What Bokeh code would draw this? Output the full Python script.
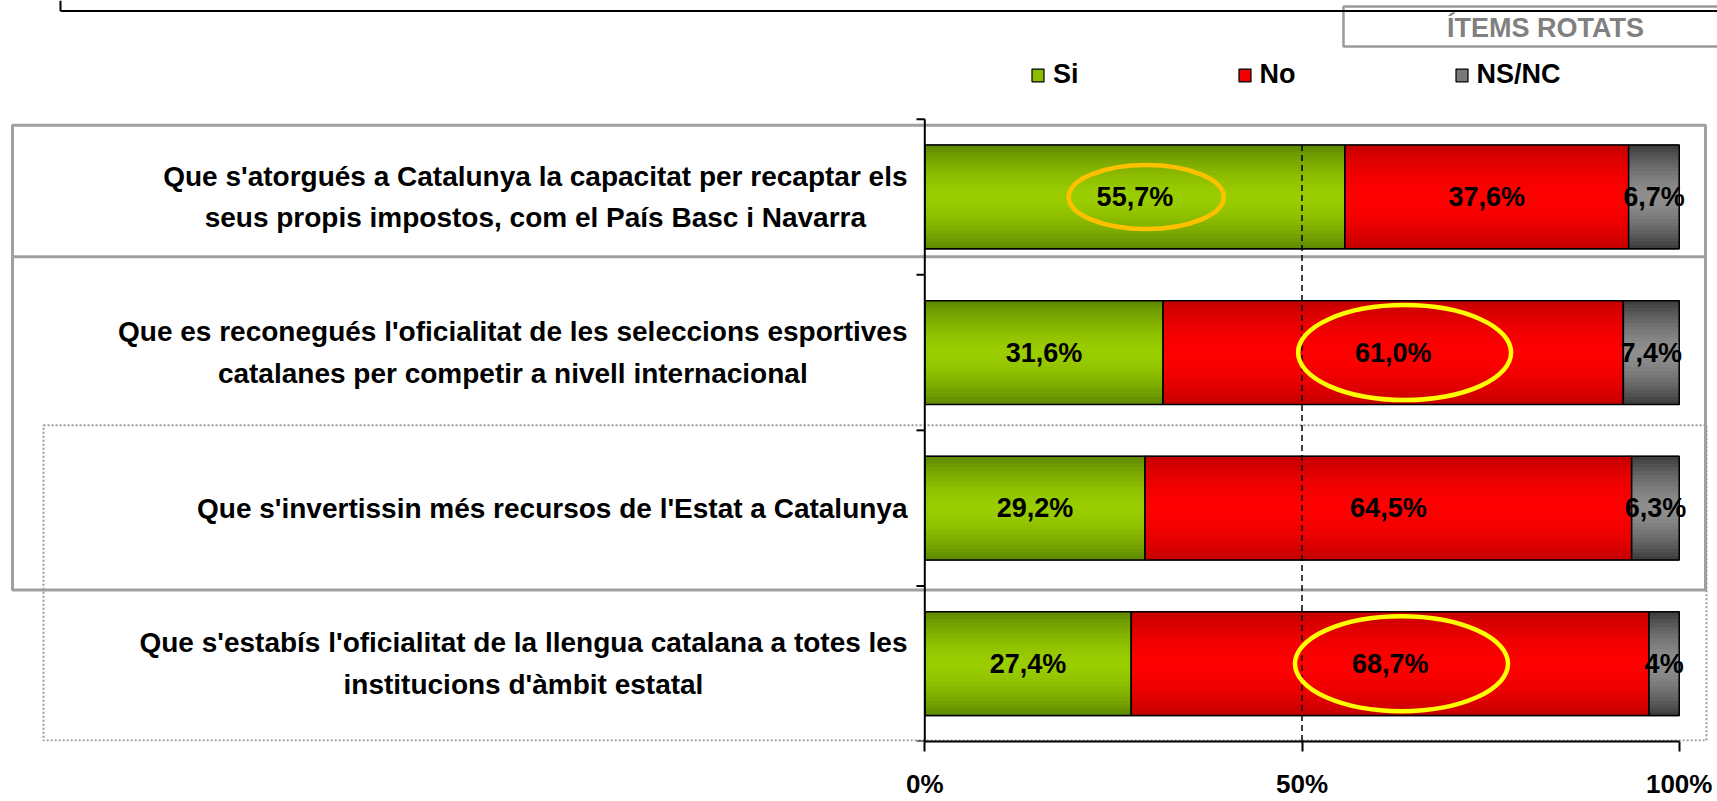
from bokeh.plotting import figure
from bokeh.models import Range1d, FixedTicker, PrintfTickFormatter, Legend, LegendItem, ColumnDataSource
from bokeh.core.properties import value
from bokeh.embed import file_html
from bokeh.resources import INLINE

# ---------------- data ----------------
categories = [
    "Que s'atorgués a Catalunya la capacitat per recaptar els\nseus propis impostos, com el País Basc i Navarra",
    "Que es reconegués l'oficialitat de les seleccions esportives\ncatalanes per competir a nivell internacional",
    "Que s'invertissin més recursos de l'Estat a Catalunya",
    "Que s'estabís l'oficialitat de la llengua catalana a totes les\ninstitucions d'àmbit estatal",
]
series_names = ["Si", "No", "NS/NC"]
si = [55.7, 31.6, 29.2, 27.4]
no = [37.6, 61.0, 64.5, 68.7]
nsnc = [6.7, 7.4, 6.3, 4]
x_ticks = [0, 50, 100]
header_text = "ÍTEMS ROTATS"
highlights = [(0, "Si"), (1, "No"), (3, "No")]

# ---------------- layout / style ----------------
W, H = 1717, 801
FONT = value("Liberation Sans")
X_ZERO_PAGE, PX_PER_PCT = 924.3, 7.544
Y_ZERO_PAGE, BAND_PX = 743.0, 156.0


def X(px):
    return (px - X_ZERO_PAGE) / PX_PER_PCT


def Y(py):
    return (Y_ZERO_PAGE - py) / BAND_PX


BAR_H = 104.0 / BAND_PX
palettes = {
    "Si": ("#9ACD00", "#5E8800"),
    "No": ("#FF0000", "#C40000"),
    "NS/NC": ("#8E8E8E", "#3A3A3A"),
}
hl_style = [("#FFC000", 155, 64), ("#FFFF00", 213, 95), ("#FFFF00", 213, 95)]


def mix(c1, c2, f):
    a = [int(c1[i:i + 2], 16) for i in (1, 3, 5)]
    b = [int(c2[i:i + 2], 16) for i in (1, 3, 5)]
    return "#%02x%02x%02x" % tuple(round(a[i] * (1 - f) + b[i] * f) for i in range(3))


def fmt(v):
    if isinstance(v, int):
        return f"{v}%"
    return f"{v:.1f}".replace(".", ",") + "%"


n = len(categories)
yc = [n - i - 0.5 for i in range(n)]
vals = {"Si": si, "No": no, "NS/NC": nsnc}
totals = [si[i] + no[i] + nsnc[i] for i in range(n)]

p = figure(width=W, height=H, x_range=Range1d(X(0), X(W)), y_range=Range1d(Y(743), Y(0)),
           output_backend="svg", toolbar_location=None, y_axis_location=None,
           min_border_left=0, min_border_right=0, min_border_top=0, min_border_bottom=H - 743)
p.outline_line_color = None
p.grid.visible = False

# decorative frames (as in the original slide)
p.quad(left=[X(1343)], right=[X(1760)], top=[Y(6)], bottom=[Y(46)], fill_color=None,
       line_color="#9A9A9A", line_width=2.5)
p.segment(x0=[X(60)], y0=[Y(10.5)], x1=[X(1717)], y1=[Y(10.5)], line_color="black", line_width=2)
p.segment(x0=[X(60)], y0=[Y(0)], x1=[X(60)], y1=[Y(10.5)], line_color="black", line_width=2)
p.text(x=[X(1545)], y=[Y(28)], text=[header_text], text_align="center", text_baseline="middle",
       text_font=FONT, text_font_style="bold", text_font_size="27px", text_color="#808080")
p.quad(left=[X(12)], right=[X(1705)], top=[Y(125)], bottom=[Y(591)], fill_color=None,
       line_color="#A0A0A0", line_width=3)
p.segment(x0=[X(12)], y0=[Y(257)], x1=[X(1705)], y1=[Y(257)], line_color="#A0A0A0", line_width=3)
p.quad(left=[X(43)], right=[X(1706)], top=[Y(426)], bottom=[Y(742)], fill_color=None,
       line_color="#9A9A9A", line_width=2, line_dash="2 2")

# stacked bars (100%)
M = 14
legend_items = []
cum = [0.0] * n
for name in series_names:
    v = vals[name]
    left = [cum[i] for i in range(n)]
    right = [cum[i] + v[i] / totals[i] * 100 for i in range(n)]
    cum = right
    src = ColumnDataSource(dict(y=yc, left=left, right=right,
                                lx=[(l + r) / 2 for l, r in zip(left, right)],
                                label=[fmt(x) for x in v]))
    mid, edge = palettes[name]
    base = p.hbar(y="y", left="left", right="right", height=BAR_H, source=src,
                  fill_color=mix(mid, edge, 0.25), line_color="black", line_width=1.2)
    legend_items.append(LegendItem(label=name, renderers=[base]))
    for k in range(M):
        frac = (M - k) / M
        t = (M - k - 0.5) / M
        p.hbar(y="y", left="left", right="right", height=BAR_H * frac, source=src,
               fill_color=mix(mid, edge, t ** 1.6), line_color=None)
    p.hbar(y="y", left="left", right="right", height=BAR_H, source=src,
           fill_color=None, line_color="black", line_width=1.5)
    vals[name + "_src"] = src

# 50% reference line
p.segment(x0=[x_ticks[1]], y0=[yc[0] + BAR_H / 2], x1=[x_ticks[1]], y1=[0],
          line_color="black", line_width=1.5, line_dash="6 4")

# highlight ellipses
for (ci, sname), (col, wpx, hpx) in zip(highlights, hl_style):
    src = vals[sname + "_src"]
    cx = src.data["lx"][ci] + 1.5
    p.ellipse(x=[cx], y=[yc[ci]], width=[wpx], height=[hpx], width_units="screen",
              height_units="screen", fill_color=None, line_color=col, line_width=4.5)

# value labels
for name in series_names:
    p.text(x="lx", y="y", text="label", source=vals[name + "_src"], text_align="center",
           text_baseline="middle", text_font=FONT, text_font_style="bold",
           text_font_size="27px", text_color="black")

# category labels
p.text(x=[X(907)] * n, y=yc, text=categories, anchor=value("center_right"), text_align="center",
       text_baseline="middle", text_line_height=1.35, text_font=FONT, text_font_style="bold",
       text_font_size="28px", text_color="black")

# left category axis (line + boundary ticks)
p.segment(x0=[0], y0=[0], x1=[0], y1=[n], line_color="black", line_width=2)
p.segment(x0=[X(916)] * (n + 1), y0=list(range(n + 1)), x1=[0] * (n + 1), y1=list(range(n + 1)),
          line_color="black", line_width=2)

# bottom axis
ax = p.xaxis[0]
ax.ticker = FixedTicker(ticks=x_ticks)
ax.formatter = PrintfTickFormatter(format="%d%%")
ax.bounds = (0, 100)
ax.axis_line_width = 2
ax.axis_line_color = "black"
ax.major_tick_line_width = 2
ax.major_tick_line_color = "black"
ax.major_tick_out = 10
ax.major_tick_in = 0
ax.minor_tick_line_color = None
ax.major_label_standoff = 17
ax.major_label_text_font = "Liberation Sans"
ax.major_label_text_font_style = "bold"
ax.major_label_text_font_size = "26px"
ax.major_label_text_color = "black"

legend = Legend(items=legend_items, orientation="horizontal", location=(1030, 743 - 92),
                glyph_width=15, glyph_height=16, label_standoff=8, spacing=158, padding=0, margin=0,
                border_line_color=None, background_fill_alpha=0, label_height=30,
                label_text_font="Liberation Sans", label_text_font_style="bold",
                label_text_font_size="27px", label_text_color="black")
p.add_layout(legend)

open("out.html", "w").write(file_html(p, INLINE))
